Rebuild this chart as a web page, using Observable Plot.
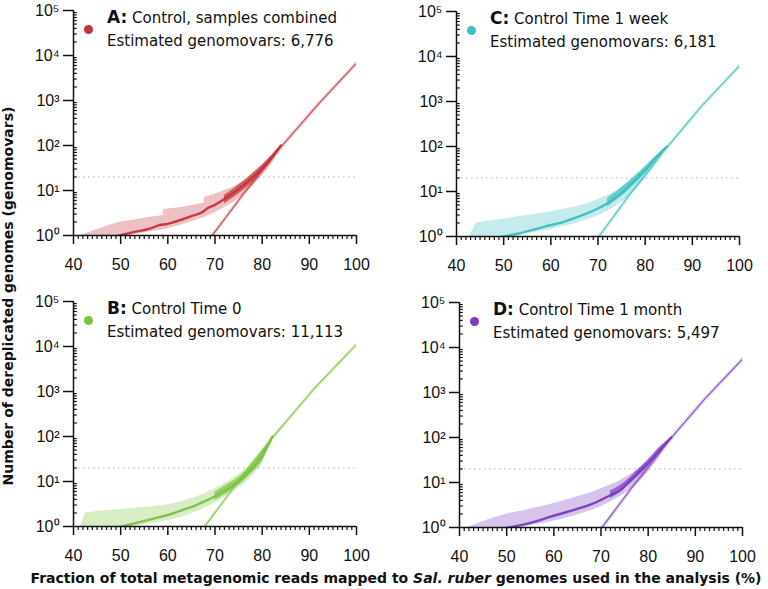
<!DOCTYPE html>
<html><head><meta charset="utf-8">
<script src="https://cdn.jsdelivr.net/npm/d3@7"></script>
<script src="https://cdn.jsdelivr.net/npm/@observablehq/plot@0.6"></script>
<style>
body{margin:0;background:#fff;}
#wrap{position:relative;width:768px;height:589px;overflow:hidden;background:#fff;font-family:"DejaVu Sans",Verdana,sans-serif;color:#111;}
.pan{position:absolute;}
#wrap svg text{font-size:16px;}
.t1{position:absolute;font-size:15px;line-height:15px;white-space:nowrap;}
.t1 b{font-size:17px;}
.t2{position:absolute;font-size:15px;line-height:15px;white-space:nowrap;}
#ylab{position:absolute;left:8px;top:296px;transform:translate(-50%,-50%) rotate(-90deg);font-weight:bold;font-size:14px;line-height:14px;white-space:nowrap;}
#xlab{position:absolute;left:396px;top:571px;transform:translateX(-50%);font-weight:bold;font-size:14px;line-height:14px;white-space:nowrap;}
</style></head>
<body><div id="wrap"></div>
<script>
// ---- shared axis definitions ----
const xMajor = [40, 50, 60, 70, 80, 90, 100];
const xMinor = d3.range(41, 100).filter(v => v % 10 !== 0);
const yMajor = [1, 10, 100, 1000, 10000, 100000];
const yTickLabels = ["10\u2070", "10\u00B9", "10\u00B2", "10\u00B3", "10\u2074", "10\u2075"];
const yMinor = [];
for (let k = 0; k < 5; k++) for (let m = 2; m <= 9; m++) yMinor.push(m * Math.pow(10, k));
const threshold = 20;

// ---- panel meta ----
const letters = ["A", "C", "B", "D"];
const names = ["Control, samples combined", "Control Time 1 week", "Control Time 0", "Control Time 1 month"];
const estimates = ["6,776", "6,181", "11,113", "5,497"];
const colors = ["#c4333b", "#3bbfbf", "#7dc242", "#7a3cc0"];

// ---- Panel A ----
const xA   = [41.5, 44, 47, 50, 53, 56, 59, 59.1, 62, 65, 67.7, 67.8, 70, 72, 74, 76, 78, 80, 82, 84];
const hiA  = [1, 1.25, 1.6, 2.0, 2.2, 2.5, 2.8, 3.8, 4.1, 4.6, 5.3, 7.0, 8.3, 10, 12, 15.5, 23, 36, 58, 100];
const loA  = [0.5, 0.6, 0.75, 0.9, 1.05, 1.2, 1.35, 1.35, 1.6, 2.0, 2.5, 2.5, 3.2, 4.2, 5.5, 7.8, 12.5, 21, 38, 90];
const midA = [0.6, 0.75, 0.88, 1.02, 1.2, 1.4, 1.75, 1.75, 2.1, 2.7, 3.5, 3.6, 4.8, 6.5, 9, 13, 19.5, 31, 54, 100];
const coreXA = [72, 74, 76, 78, 80, 82, 84];
const coreLoA = [5, 7, 10, 15, 25, 44, 95];
const coreHiA = [7.8, 11, 16, 24, 37, 60, 100];
const fitXA = [69.4, 76, 84, 92, 100];
const fitYA = [1, 8.3, 93, 850, 6776];

// ---- Panel C ----
const xC   = [42.7, 44.2, 47, 50, 53, 56, 59, 62, 65, 68, 70, 72, 74, 76, 78, 80, 82, 84.6];
const hiC  = [1, 2.0, 2.2, 2.45, 2.75, 3.05, 3.4, 3.9, 4.5, 5.5, 6.6, 8.2, 10.5, 14, 21, 33, 52, 100];
const loC  = [0.5, 0.6, 0.75, 0.92, 1.05, 1.2, 1.35, 1.6, 1.9, 2.4, 2.9, 3.6, 4.8, 6.8, 11, 19, 36, 92];
const midC = [0.55, 0.65, 0.82, 1.0, 1.15, 1.38, 1.7, 2.0, 2.55, 3.4, 4.2, 5.5, 7.6, 11.5, 18.5, 30, 52, 100];
const coreXC = [72, 74, 76, 78, 80, 82, 84.6];
const coreLoC = [4.5, 6.5, 9.5, 15, 25, 43, 95];
const coreHiC = [7, 10, 15, 23, 36, 58, 100];
const fitXC = [70.2, 76.5, 84.6, 92, 100];
const fitYC = [1, 8, 95, 800, 6181];

// ---- Panel B ----
const xB   = [41.5, 42.5, 45, 48, 51, 54, 57, 60, 63, 66, 68, 70, 72, 74, 76, 78, 80, 82.2];
const hiB  = [1, 2.0, 2.15, 2.3, 2.45, 2.6, 2.8, 3.05, 3.6, 4.5, 5.5, 7.0, 9.0, 12, 17, 28, 50, 100];
const loB  = [0.5, 0.55, 0.65, 0.8, 0.92, 1.05, 1.2, 1.35, 1.6, 2.1, 2.6, 3.3, 4.4, 6, 8.5, 13, 24, 88];
const midB = [0.55, 0.6, 0.72, 0.88, 1.05, 1.25, 1.5, 1.8, 2.3, 3.0, 3.7, 4.7, 6.2, 8.4, 12.5, 20, 37, 100];
const coreXB = [70, 72, 74, 76, 78, 80, 82.2];
const coreLoB = [3.8, 5, 7, 10, 16, 28, 92];
const coreHiB = [5.8, 7.8, 10.5, 15, 25, 45, 100];
const fitXB = [67.8, 74, 82.2, 91, 100];
const fitYB = [1, 7.4, 95, 1150, 11113];

// ---- Panel D ----
const xD   = [41.8, 44, 47, 50, 53, 56, 59, 62, 65, 68, 70, 72, 74, 76, 78, 80, 82, 84.9];
const hiD  = [1, 1.25, 1.6, 2.0, 2.3, 2.7, 3.2, 3.9, 4.8, 6.0, 7.3, 8.8, 11, 14.5, 20, 30, 48, 100];
const loD  = [0.5, 0.6, 0.75, 0.9, 1.0, 1.15, 1.3, 1.55, 1.9, 2.4, 2.9, 3.7, 4.8, 6.6, 10, 17, 32, 92];
const midD = [0.55, 0.65, 0.8, 0.98, 1.13, 1.35, 1.7, 2.1, 2.6, 3.3, 4.1, 5.2, 6.6, 10.5, 17, 27, 46, 100];
const coreXD = [72, 74, 76, 78, 80, 82, 84.9];
const coreLoD = [4.4, 6, 9, 14, 23, 40, 95];
const coreHiD = [6.5, 8.5, 12.5, 20, 32, 55, 100];
const fitXD = [70.2, 76.5, 84.9, 92, 100];
const fitYD = [1, 7.6, 98, 720, 5497];

const panels = [
  {x: xA, hi: hiA, lo: loA, mid: midA, cx: coreXA, clo: coreLoA, chi: coreHiA, fx: fitXA, fy: fitYA, left: 13, top: -4, h: 280},
  {x: xC, hi: hiC, lo: loC, mid: midC, cx: coreXC, clo: coreLoC, chi: coreHiC, fx: fitXC, fy: fitYC, left: 396, top: -3, h: 280},
  {x: xB, hi: hiB, lo: loB, mid: midB, cx: coreXB, clo: coreLoB, chi: coreHiB, fx: fitXB, fy: fitYB, left: 13, top: 287, h: 281},
  {x: xD, hi: hiD, lo: loD, mid: midD, cx: coreXD, clo: coreLoD, chi: coreHiD, fx: fitXD, fy: fitYD, left: 399, top: 288, h: 281}
];

const wrap = document.getElementById("wrap");

panels.forEach((p, i) => {
  const color = colors[i];
  const band = p.x.map((v, j) => ({x: v, lo: p.lo[j], hi: p.hi[j], mid: p.mid[j]}));
  const core = p.cx.map((v, j) => ({x: v, lo: p.clo[j], hi: p.chi[j]}));
  const fit = p.fx.map((v, j) => ({x: v, y: p.fy[j]}));
  const chart = Plot.plot({
    width: 363, height: p.h,
    marginLeft: 60, marginRight: 20, marginTop: 14, marginBottom: p.h - 14 - 225,
    x: {domain: [40, 100]},
    y: {type: "log", domain: [1, 1e5]},
    style: {fontFamily: "'Liberation Sans', Arial, sans-serif", fontSize: "16px", color: "#111", overflow: "visible", background: "transparent"},
    marks: [
      Plot.ruleY([threshold], {stroke: "#b0b0b0", strokeWidth: 1, strokeDasharray: "1.5,3.5"}),
      Plot.areaY(band, {x: "x", y1: "lo", y2: "hi", fill: color, fillOpacity: 0.3, clip: true}),
      Plot.areaY(core, {x: "x", y1: "lo", y2: "hi", fill: color, fillOpacity: 0.7, curve: "monotone-x", clip: true}),
      Plot.line(band, {x: "x", y: "mid", stroke: color, strokeWidth: 2.4, strokeOpacity: 0.95, curve: "monotone-x", clip: true}),
      Plot.line(fit, {x: "x", y: "y", stroke: color, strokeWidth: 4, strokeOpacity: 0.18, clip: true}),
      Plot.line(fit, {x: "x", y: "y", stroke: color, strokeWidth: 1.2, strokeOpacity: 0.85, clip: true}),
      Plot.axisX({ticks: xMinor, tickSize: 4, tickFormat: () => "", fill: "none", label: null, strokeWidth: 1.2}),
      Plot.axisX({ticks: xMajor, tickSize: 9, tickPadding: 14, tickFormat: d => String(d), label: null, strokeWidth: 1.5, fontSize: 16}),
      Plot.ruleY(yMinor, {x1: 40, x2: 40.8, stroke: "#111", strokeWidth: 1.2}),
      Plot.axisY({ticks: yMajor, tickSize: 10, tickPadding: 4, tickFormat: d => yTickLabels[yMajor.indexOf(d)], label: null, strokeWidth: 1.5, fontSize: 16}),
      Plot.ruleX([40], {stroke: "#111", strokeWidth: 1.5}),
      Plot.ruleY([1], {stroke: "#111", strokeWidth: 1.5}),
      Plot.dot([i], {frameAnchor: "top-left", dx: 15, dy: 19, r: 4.5, fill: color, stroke: "none"})
    ]
  });
  chart.classList.add("pan");
  chart.style.left = p.left + "px";
  chart.style.top = p.top + "px";
  wrap.appendChild(chart);

  const plotLeft = p.left + 60;
  const plotTop = p.top + 14;
  const t1 = document.createElement("div");
  t1.className = "t1";
  t1.style.left = (plotLeft + 34) + "px";
  t1.style.top = (plotTop + 0) + "px";
  t1.innerHTML = "<b>" + letters[i] + ":</b> " + names[i];
  wrap.appendChild(t1);
  const t2 = document.createElement("div");
  t2.className = "t2";
  t2.style.left = (plotLeft + 34) + "px";
  t2.style.top = (plotTop + 24) + "px";
  t2.textContent = "Estimated genomovars: " + estimates[i];
  wrap.appendChild(t2);
});

const yl = document.createElement("div");
yl.id = "ylab";
yl.textContent = "Number of dereplicated genomes (genomovars)";
wrap.appendChild(yl);
const xl = document.createElement("div");
xl.id = "xlab";
xl.innerHTML = "Fraction of total metagenomic reads mapped to <i>Sal. ruber</i> genomes used in the analysis (%)";
wrap.appendChild(xl);
</script>
</body></html>
